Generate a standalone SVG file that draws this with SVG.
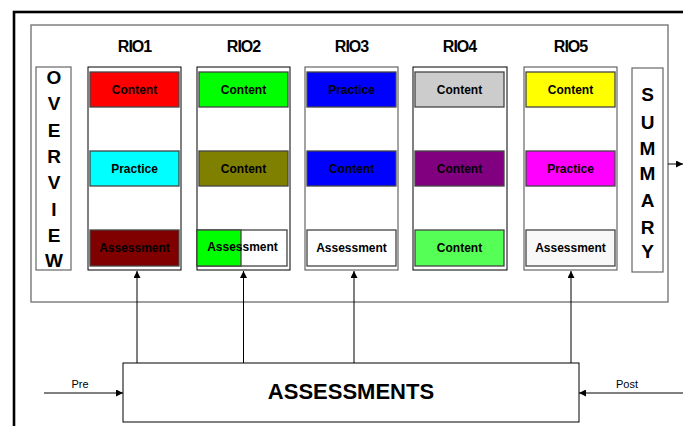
<svg xmlns="http://www.w3.org/2000/svg" width="683" height="426" viewBox="0 0 683 426">
<style>
.lbl{font-family:"Liberation Sans",Arial,sans-serif;font-weight:bold;font-size:12px;text-anchor:middle;fill:#000}
.rio{font-family:"Liberation Sans",Arial,sans-serif;font-weight:bold;font-size:16px;text-anchor:middle;letter-spacing:-1px;fill:#000}
.vert{font-family:"Liberation Sans",Arial,sans-serif;font-weight:bold;font-size:19px;text-anchor:middle;fill:#000}
.small{font-family:"Liberation Sans",Arial,sans-serif;font-size:11px;text-anchor:middle;fill:#000}
.big{font-family:"Liberation Sans",Arial,sans-serif;font-weight:bold;font-size:22px;text-anchor:middle;fill:#000}
.col{fill:#fff;stroke:#000;stroke-width:1}
.colg{fill:#fff;stroke:#666;stroke-width:1.2}
.box{stroke:#444;stroke-width:1.3}
.con{stroke:#000;stroke-width:1;fill:none;marker-end:url(#ah)}
</style>
<defs>
<marker id="ah" viewBox="0 0 10 10" refX="10" refY="5" markerWidth="7" markerHeight="7" markerUnits="userSpaceOnUse" orient="auto">
<path d="M0,0 L10,5 L0,10 z" fill="#000"/>
</marker>
</defs>
<rect width="683" height="426" fill="#fff"/>
<rect id="frame" x="14" y="12" width="720" height="460" fill="none" stroke="#000" stroke-width="2.6"/>
<rect id="panel" x="31" y="25" width="637" height="277" fill="#fff" stroke="#808080" stroke-width="1.5"/>

<g id="overview">
<rect x="36" y="67" width="35" height="203" class="colg" stroke="#555"/>
<text class="vert" x="54" y="84">O</text>
<text class="vert" x="54" y="110">V</text>
<text class="vert" x="54" y="137">E</text>
<text class="vert" x="54" y="163">R</text>
<text class="vert" x="54" y="189">V</text>
<text class="vert" x="54" y="216">I</text>
<text class="vert" x="54" y="242">E</text>
<text class="vert" x="54" y="267">W</text>
</g>

<g id="rio1">
<text class="rio" x="134.5" y="52">RIO1</text>
<rect x="88" y="67" width="93" height="203" class="col"/>
<rect x="90" y="72" width="89" height="35" class="box" fill="#FF0000"/>
<text class="lbl" x="134.5" y="93.5">Content</text>
<rect x="90" y="151" width="89" height="35" class="box" fill="#00FFFF"/>
<text class="lbl" x="134.5" y="172.5">Practice</text>
<rect x="90" y="230" width="89" height="36" class="box" fill="#800000"/>
<text class="lbl" x="134.5" y="252">Assessment</text>
</g>

<g id="rio2">
<text class="rio" x="243.5" y="52">RIO2</text>
<rect x="197" y="67" width="93" height="203" class="col"/>
<rect x="199" y="72" width="89" height="35" class="box" fill="#00FF00"/>
<text class="lbl" x="243.5" y="93.5">Content</text>
<rect x="199" y="151" width="89" height="35" class="box" fill="#808000"/>
<text class="lbl" x="243.5" y="172.5">Content</text>
<rect x="197" y="230" width="90" height="36" fill="#fff" stroke="#444" stroke-width="1.3"/>
<rect x="197" y="230" width="44" height="36" fill="#00FF00" stroke="#444" stroke-width="1.3"/>
<text class="lbl" x="242.5" y="251">Assessment</text>
</g>

<g id="rio3">
<text class="rio" x="351.5" y="52">RIO3</text>
<rect x="305" y="67" width="93" height="203" class="colg"/>
<rect x="307" y="72" width="89" height="35" class="box" fill="#0000FF"/>
<text class="lbl" x="351.5" y="93.5">Practice</text>
<rect x="307" y="151" width="89" height="35" class="box" fill="#0000FF"/>
<text class="lbl" x="351.5" y="172.5">Content</text>
<rect x="307" y="230" width="89" height="36" class="box" fill="#FFFFFF"/>
<text class="lbl" x="351.5" y="252">Assessment</text>
</g>

<g id="rio4">
<text class="rio" x="459.5" y="52">RIO4</text>
<rect x="413" y="67" width="94" height="203" class="col"/>
<rect x="415" y="72" width="89" height="35" class="box" fill="#CCCCCC"/>
<text class="lbl" x="459.5" y="93.5">Content</text>
<rect x="415" y="151" width="89" height="35" class="box" fill="#800080"/>
<text class="lbl" x="459.5" y="172.5">Content</text>
<rect x="415" y="230" width="89" height="36" class="box" fill="#55FF55"/>
<text class="lbl" x="459.5" y="252">Content</text>
</g>

<g id="rio5">
<text class="rio" x="570.5" y="52">RIO5</text>
<rect x="524" y="67" width="93" height="203" class="colg"/>
<rect x="526" y="72" width="89" height="35" class="box" fill="#FFFF00"/>
<text class="lbl" x="570.5" y="93.5">Content</text>
<rect x="526" y="151" width="89" height="35" class="box" fill="#FF00FF"/>
<text class="lbl" x="570.5" y="172.5">Practice</text>
<rect x="526" y="230" width="89" height="36" class="box" fill="#F8F8F8"/>
<text class="lbl" x="570.5" y="252">Assessment</text>
</g>

<g id="summary">
<rect x="632" y="68" width="31" height="204" class="colg"/>
<text class="vert" x="647.5" y="101">S</text>
<text class="vert" x="647.5" y="129">U</text>
<text class="vert" x="647.5" y="155">M</text>
<text class="vert" x="647.5" y="180">M</text>
<text class="vert" x="647.5" y="207">A</text>
<text class="vert" x="647.5" y="234">R</text>
<text class="vert" x="647.5" y="258">Y</text>
</g>

<g id="assessments">
<rect x="123" y="363" width="456" height="59" fill="#fff" stroke="#000" stroke-width="1"/>
<text class="big" x="351" y="399">ASSESSMENTS</text>
</g>

<g id="connectors">
<line class="con" x1="137" y1="363" x2="137" y2="271"/>
<line class="con" x1="243.5" y1="363" x2="243.5" y2="271"/>
<line class="con" x1="354" y1="363" x2="354" y2="271"/>
<line class="con" x1="571" y1="363" x2="571" y2="271"/>
<line class="con" x1="668" y1="164" x2="683" y2="164"/>
<line class="con" x1="44" y1="393" x2="123" y2="393"/>
<line class="con" x1="683" y1="393" x2="579" y2="393"/>
<text class="small" x="80" y="388">Pre</text>
<text class="small" x="627" y="388">Post</text>
</g>
</svg>
